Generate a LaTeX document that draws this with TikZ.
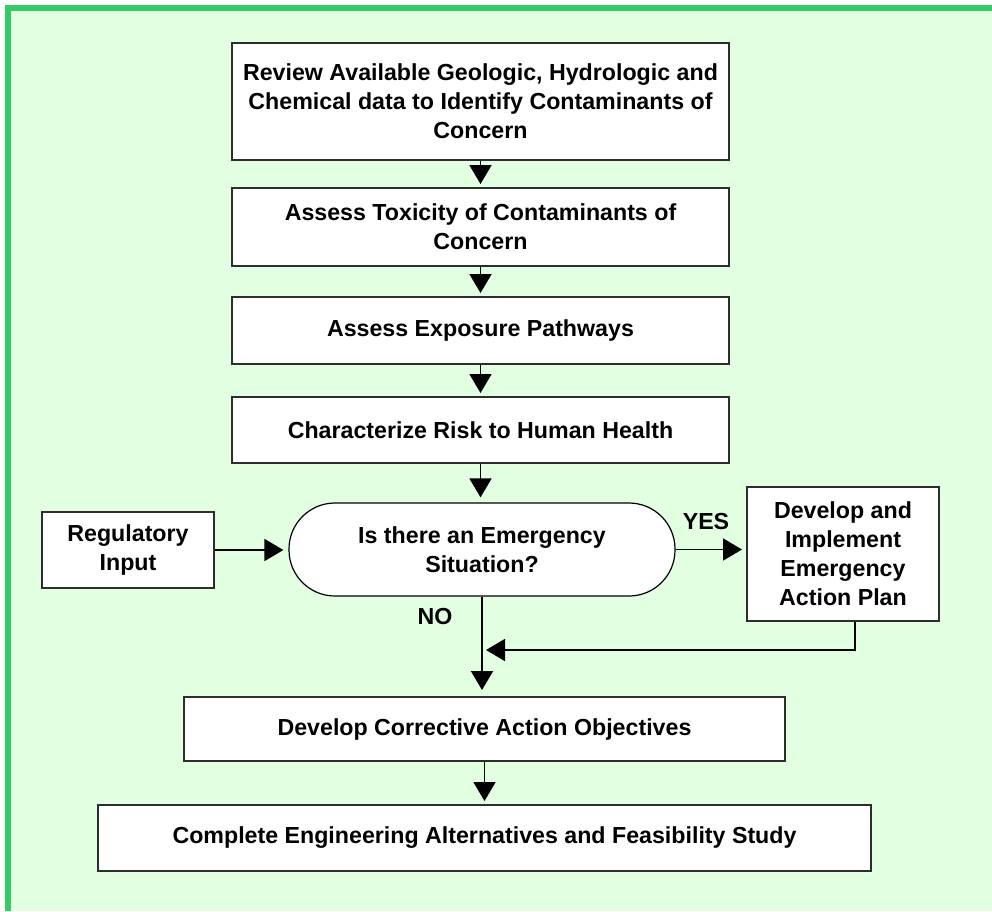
\documentclass[tikz,border=0pt]{standalone}
\usepackage{fontspec}
\setmainfont{Liberation Sans}
\usetikzlibrary{arrows.meta}
\definecolor{frameg}{RGB}{51,204,102}
\definecolor{bgg}{RGB}{226,255,226}
\definecolor{boxline}{RGB}{45,45,45}
\begin{document}
\begin{tikzpicture}[x=1pt,y=-1pt,
  box/.style={draw=boxline,line width=2pt,fill=white,inner sep=0pt,align=center,
    font=\fontsize{23.2}{29}\selectfont\bfseries},
  conn/.style={line width=1.8pt,shorten >=3pt,-{Triangle[width=22pt,length=19pt]}},
  lbl/.style={font=\fontsize{23.2}{29}\selectfont\bfseries,inner sep=0pt}]
\path[use as bounding box,fill=white] (0,0) rectangle (992,911);
\fill[bgg] (5,5) rectangle (992,911);
\fill[frameg] (5,5) rectangle (992,11);
\fill[frameg] (5,5) rectangle (11,911);

\node[box,minimum width=497pt,minimum height=117pt] (b1) at (480.5,101.5)
  {Review Available Geologic, Hydrologic and\\Chemical data to Identify Contaminants of\\Concern};
\node[box,minimum width=497pt,minimum height=78pt] (b2) at (480.5,227)
  {Assess Toxicity of Contaminants of\\Concern};
\node[box,minimum width=497pt,minimum height=67pt] (b3) at (480.5,330.5)
  {Assess Exposure Pathways};
\node[box,minimum width=497pt,minimum height=66pt] (b4) at (480.5,430)
  {Characterize Risk to Human Health};
\node[box,draw=black,line width=1.2pt,rounded corners=46pt,minimum width=386pt,minimum height=93pt] (dec) at (482,549.5)
  {Is there an Emergency\\Situation?};
\node[box,minimum width=172pt,minimum height=76pt] (reg) at (128,550)
  {Regulatory\\Input};
\node[box,minimum width=192pt,minimum height=134pt] (emg) at (843,554)
  {Develop and\\Implement\\Emergency\\Action Plan};
\node[box,minimum width=601pt,minimum height=64pt] (cor) at (484.5,729)
  {Develop Corrective Action Objectives};
\node[box,minimum width=773pt,minimum height=66pt] (fin) at (484.5,838)
  {Complete Engineering Alternatives and Feasibility Study};

\node[lbl] (yes) at (706,522) {YES};
\node[lbl] (no) at (435,617) {NO};

\coordinate (ej) at (855,650);
\coordinate (mj) at (486,650);

\draw[conn] (b1.south) -- (b2.north);
\draw[conn] (b2.south) -- (b3.north);
\draw[conn] (b3.south) -- (b4.north);
\draw[conn,shorten >=5pt] (b4.south) -- (b4.south |- dec.north);
\draw[conn,shorten >=5pt] (reg.east) -- (reg.east -| dec.west);
\draw[conn,shorten >=4pt] (dec.east) -- (dec.east -| emg.west);
\draw[conn,shorten >=6pt] (dec.south) -- (dec.south |- cor.north);
\draw[conn,shorten >=0pt] (emg.south -| ej) -- (ej) -- (mj);
\draw[conn] (cor.south) -- (fin.north);
\end{tikzpicture}
\end{document}
